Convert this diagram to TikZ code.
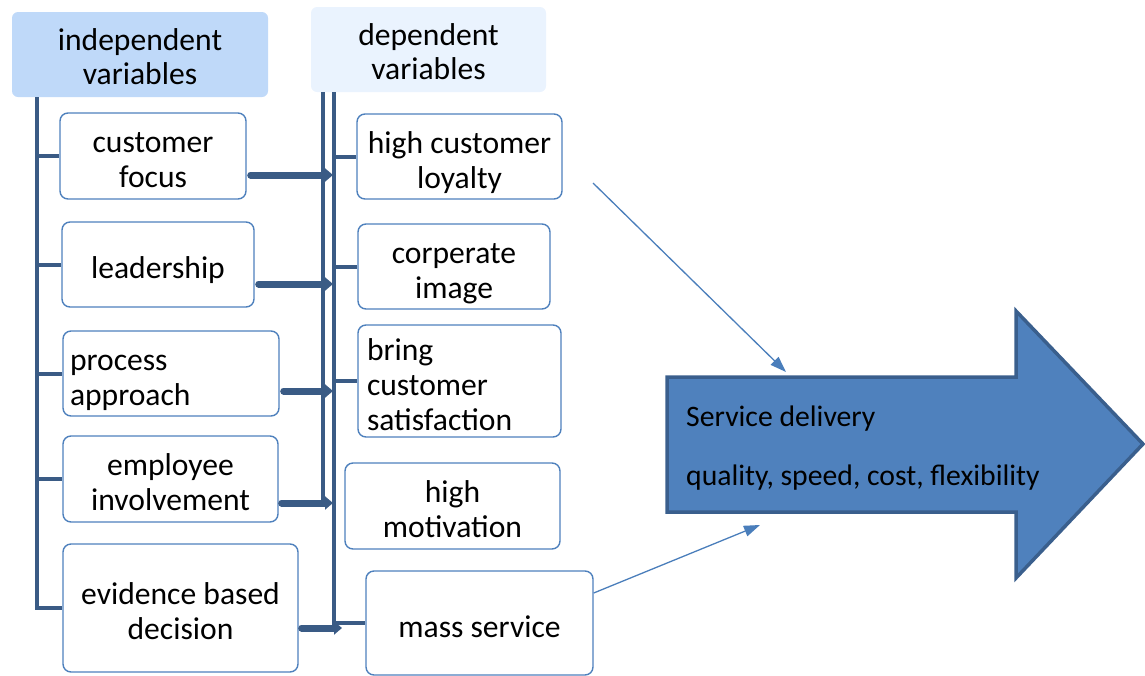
\documentclass[tikz,border=0pt]{standalone}
\usepackage{fontspec}
\setmainfont{Carlito}
\usetikzlibrary{arrows.meta,calc}
\definecolor{barblue}{HTML}{3A5B85}
\definecolor{boxedge}{HTML}{4F81BD}
\definecolor{hdrA}{HTML}{BFD9F9}
\definecolor{hdrB}{HTML}{EAF3FE}
\definecolor{bigfill}{HTML}{4F81BD}
\definecolor{bigedge}{HTML}{3A5F8D}
\definecolor{thinblue}{HTML}{4A7EBB}
% struts fixing the height of the first line and the depth of the last one
\newcommand\firstln{\rule{0pt}{39pt}}
\newcommand\lastln{\rule[-10.5pt]{0pt}{0pt}}
\newcommand\hfirstln{\rule{0pt}{35pt}}
\newcommand\hlastln{\rule[-10pt]{0pt}{0pt}}
\begin{document}
\begin{tikzpicture}[x=1pt,y=-1pt,
  box/.style={draw=boxedge, line width=1.4pt, rounded corners=8pt, fill=white,
    inner sep=0pt, align=center, font=\fontsize{31.6}{35}\selectfont},
  leftbox/.style={box, align=left, inner xsep=7pt},
  header/.style={rounded corners=6pt, inner sep=0pt, align=center,
    font=\fontsize{31.6}{34}\selectfont},
  bar/.style={draw=barblue, line width=4.5pt},
  tick/.style={draw=barblue, line width=4pt},
  feed/.style={draw=barblue, line width=7pt, line cap=round,
    -{Triangle[length=8pt,width=13pt]}},
  pointer/.style={draw=thinblue, line width=1.3pt,
    -{Triangle[length=16pt,width=11pt]}}
]
\useasboundingbox (0,0) rectangle (1145,675);

% column headers
\node[header, fill=hdrA, minimum width=256pt, minimum height=85pt] (indep) at (140,54.5)
  {\hfirstln independent\\variables\hlastln};
\node[header, fill=hdrB, minimum width=235pt, minimum height=85pt] (dep) at (428.5,49.5)
  {\hfirstln dependent\\variables\hlastln};

% independent variables
\node[box, minimum width=186pt, minimum height=86pt] (cf) at (153,156) {\firstln customer\\focus\lastln};
\node[box, minimum width=192pt, minimum height=85pt] (ld) at (158,264.5) {\firstln leadership\lastln};
\node[leftbox, text width=202pt, minimum height=85pt] (pa) at (171,373.5) {\firstln process\\approach\lastln};
\node[box, minimum width=215pt, minimum height=86pt] (ei) at (170.5,479) {\firstln employee\\involvement\lastln};
\node[box, minimum width=235pt, minimum height=128pt] (ev) at (180.5,608) {\firstln evidence based\\decision\lastln};

% dependent variables
\node[box, minimum width=205pt, minimum height=85pt] (hcl) at (459.5,156.5) {\firstln high customer\\loyalty\lastln};
\node[box, minimum width=192pt, minimum height=85pt] (ci) at (454,266.5) {\firstln corperate\\image\lastln};
\node[leftbox, inner xsep=9pt, text width=185pt, minimum height=112pt] (cs) at (459.5,381)
  {\rule{0pt}{35pt}bring\\customer\\satisfaction\rule[-7pt]{0pt}{0pt}};
\node[box, minimum width=215pt, minimum height=86pt] (hm) at (452.5,506) {\firstln high\\motivation\lastln};
\node[box, minimum width=227pt, minimum height=104pt] (ms) at (479.5,623) {\firstln mass service\lastln};

% left spine with its branches
\coordinate (lb) at (37,97);
\draw[bar] (lb) -- (lb |- ev.west) -- (ev.west);
\foreach \n in {cf,ld,pa,ei} \draw[tick] (lb |- \n.west) -- (\n.west);

% double collector lines
\coordinate (vl) at (323,92);
\coordinate (vlb) at (323,503);
\coordinate (vr) at (334,92);
\coordinate (vrb) at (334,630);
\draw[bar] (vl) -- (vlb);
\draw[bar] (vr) -- (vrb);
\foreach \n in {hcl,ci,cs,ms} \draw[tick] (vr |- \n.west) -- (\n.west);

% feeds from the independent variables
\draw[feed] ($(cf.east)+(4,19)$) coordinate (f1) -- ($(f1 -| vl)+(10,0)$);
\draw[feed] ($(ld.east)+(4,19.5)$) coordinate (f2) -- ($(f2 -| vl)+(10,0)$);
\draw[feed] ($(pa.east)+(4,17.5)$) coordinate (f3) -- ($(f3 -| vl)+(10,0)$);
\draw[feed] ($(ei.east)+(3,24)$) coordinate (f4) -- ($(f4 -| vl)+(10,0)$);
\draw[feed] ($(ev.east)+(3,20)$) coordinate (f5) -- ($(f5 -| vr)+(8,0)$);

% service delivery arrow
\draw[draw=bigedge, fill=bigfill, line width=3.5pt, line join=miter]
  (667,377) -- (1016,377) -- (1016,311) -- (1143,444) -- (1016,578) -- (1016,512) -- (667,512) -- cycle;
\node[align=left, anchor=west, inner sep=0pt, font=\fontsize{29.7}{35}\selectfont] (sd) at (686,448)
  {Service delivery\\[24pt]quality, speed, cost, flexibility};

% pointers into the service delivery arrow
\coordinate (p1s) at (593,183);
\coordinate (p1e) at (786,372);
\coordinate (p2e) at (760,525);
\draw[pointer] (p1s) -- (p1e);
\draw[pointer] ($(ms.east)+(0,-30)$) -- (p2e);
\end{tikzpicture}
\end{document}
